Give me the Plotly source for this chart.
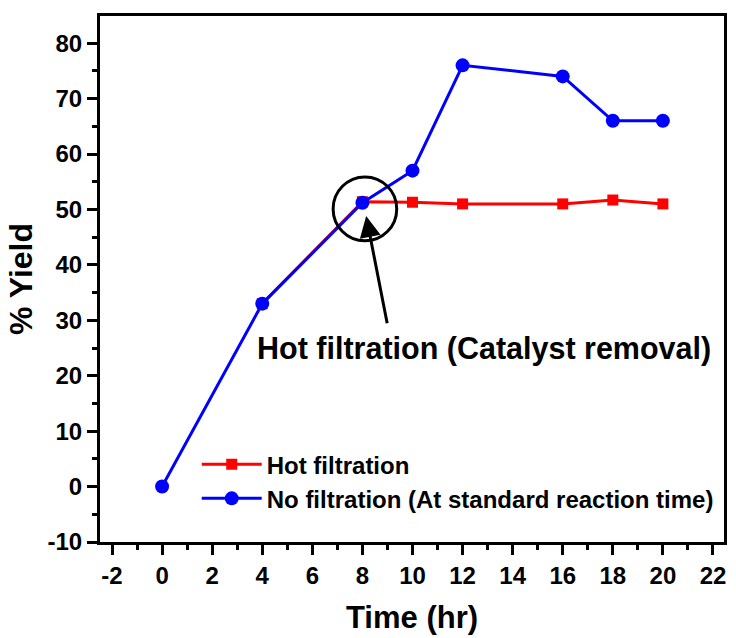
import plotly.graph_objects as go

time_hot = [4, 8, 10, 12, 16, 18, 20]
yield_hot = [33, 51.4, 51.3, 51.0, 51.0, 51.7, 51.0]
time_no = [0, 4, 8, 10, 12, 16, 18, 20]
yield_no = [0, 33, 51.2, 57, 76, 74, 66, 66]
x_ticks = list(range(-2, 23, 2))
y_ticks = list(range(-10, 81, 10))

FONT = "Arial, Liberation Sans, sans-serif"

fig = go.Figure()
fig.add_trace(go.Scatter(x=time_hot, y=yield_hot, mode="lines+markers", name="Hot filtration",
                         line=dict(color="#ff0000", width=3),
                         marker=dict(symbol="square", size=11, color="#ff0000")))
fig.add_trace(go.Scatter(x=time_no, y=yield_no, mode="lines+markers",
                         name="No filtration (At standard reaction time)",
                         line=dict(color="#0000ff", width=3),
                         marker=dict(symbol="circle", size=14, color="#0000ff")))

axis_common = dict(showline=True, linecolor="black", linewidth=3, mirror=True,
                   ticks="outside", ticklen=10, tickwidth=3, tickcolor="black",
                   showgrid=False, zeroline=False,
                   tickfont=dict(family=FONT, size=24, color="black", weight="bold"))

fig.update_xaxes(range=[-2.48, 22.44], tickmode="array", tickvals=x_ticks,
                 ticktext=[str(v) for v in x_ticks],
                 minor=dict(ticks="outside", ticklen=5, tickwidth=3, tickcolor="black", dtick=1, tick0=0),
                 title=dict(text="Time (hr)", font=dict(family=FONT, size=31, color="black", weight="bold"), standoff=19),
                 **axis_common)
fig.update_yaxes(range=[-10, 84.9], tickmode="array", tickvals=y_ticks,
                 ticktext=[str(v) for v in y_ticks],
                 minor=dict(ticks="outside", ticklen=5, tickwidth=3, tickcolor="black", dtick=5, tick0=0),
                 title=dict(text="% Yield", font=dict(family=FONT, size=32, color="black", weight="bold"), standoff=6),
                 **axis_common)

fig.add_shape(type="circle", xref="x", yref="y", x0=8.1 - 1.27, x1=8.1 + 1.27, y0=50.1 - 5.77, y1=50.1 + 5.77,
              line=dict(color="black", width=3))
fig.add_annotation(x=8.15, y=48.8, ax=9.0, ay=29.2, axref="x", ayref="y", xref="x", yref="y",
                   showarrow=True, arrowhead=2, arrowsize=1.4, arrowwidth=3, arrowcolor="black", text="")
fig.add_annotation(x=12.87, y=25.0, xref="x", yref="y", showarrow=False,
                   text="Hot filtration (Catalyst removal)",
                   font=dict(family=FONT, size=30.5, color="black", weight="bold"))

fig.update_layout(width=736, height=638, margin=dict(l=100, r=9, t=16, b=95),
                  paper_bgcolor="white", plot_bgcolor="white",
                  legend=dict(x=0.155, y=0.19, xanchor="left", yanchor="top", bgcolor="rgba(0,0,0,0)",
                              itemwidth=60, tracegroupgap=0,
                              font=dict(family=FONT, size=24, color="black", weight="bold")),
                  showlegend=True)

fig.write_html("out.html")
